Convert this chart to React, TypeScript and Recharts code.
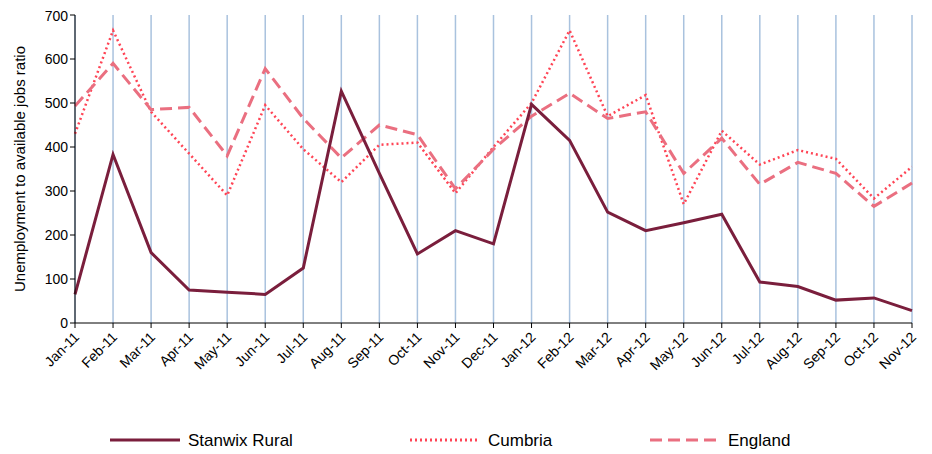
import React from "react";
import { LineChart, Line, XAxis, YAxis, CartesianGrid } from "recharts";

const categories = ["Jan-11","Feb-11","Mar-11","Apr-11","May-11","Jun-11","Jul-11","Aug-11","Sep-11","Oct-11","Nov-11","Dec-11","Jan-12","Feb-12","Mar-12","Apr-12","May-12","Jun-12","Jul-12","Aug-12","Sep-12","Oct-12","Nov-12"];
const stanwix = [65,383,160,75,70,65,125,527,340,157,210,180,497,415,252,210,228,247,93,83,52,57,28];
const cumbria = [430,665,480,385,290,495,395,320,405,410,295,400,500,665,470,518,270,437,360,393,373,283,355];
const england = [493,590,485,490,380,578,465,375,450,428,305,395,470,522,465,480,340,420,315,365,340,265,318];
const yTicks = [0,100,200,300,400,500,600,700];

const data = categories.map((c, i) => ({ c, s: stanwix[i], cu: cumbria[i], e: england[i] }));
const font = "Liberation Sans, Arial, sans-serif";

const XTick = (p: any) => (
  <text x={p.x + 5} y={p.y + 8} textAnchor="end" transform={`rotate(-45 ${p.x + 5} ${p.y + 8})`} fontSize={14} fill="#000" fontFamily={font}>{p.payload.value}</text>
);

const items = [
  { name: "Stanwix Rural", color: "#7A1E3C", dash: undefined, x: 102 },
  { name: "Cumbria", color: "#FF4455", dash: "2 3", x: 402 },
  { name: "England", color: "#EA6F80", dash: "12 6", x: 642 },
];

export default function App() {
  return (
    <div style={{ position: "relative", width: 924, height: 446 }}>
      <LineChart width={924} height={446} data={data} margin={{ top: 7, right: 20, bottom: 71, left: 17 }}>
        <CartesianGrid horizontal={false} stroke="#A9C2DE" strokeWidth={1.5} />
        <XAxis dataKey="c" interval={0} tick={<XTick />} stroke="#000" tickLine={{ stroke: "#000" }} tickSize={5} height={60} />
        <YAxis domain={[0, 700]} ticks={yTicks} width={50} stroke="#000" tickSize={5} tick={{ fontSize: 14, fill: "#000", fontFamily: font }}
          label={{ value: "Unemployment to available jobs ratio", angle: -90, position: "insideLeft", offset: -5, style: { textAnchor: "middle", fontSize: 15, fontFamily: font, fill: "#000" } }} />
        <Line dataKey="cu" stroke="#FF4455" strokeWidth={2.5} strokeDasharray="2 3" dot={false} isAnimationActive={false} />
        <Line dataKey="e" stroke="#EA6F80" strokeWidth={3} strokeDasharray="12 6" dot={false} isAnimationActive={false} />
        <Line dataKey="s" stroke="#7A1E3C" strokeWidth={3} dot={false} isAnimationActive={false} />
      </LineChart>
      <svg width={924} height={28} style={{ position: "absolute", left: 0, top: 418 }}>
        {items.map((it) => (
          <g key={it.name}>
            <line x1={it.x} x2={it.x + 70} y1={14} y2={14} stroke={it.color} strokeWidth={3} strokeDasharray={it.dash} />
            <text x={it.x + 78} y={20} fontSize={17} fontFamily={font} fill="#000">{it.name}</text>
          </g>
        ))}
      </svg>
    </div>
  );
}
